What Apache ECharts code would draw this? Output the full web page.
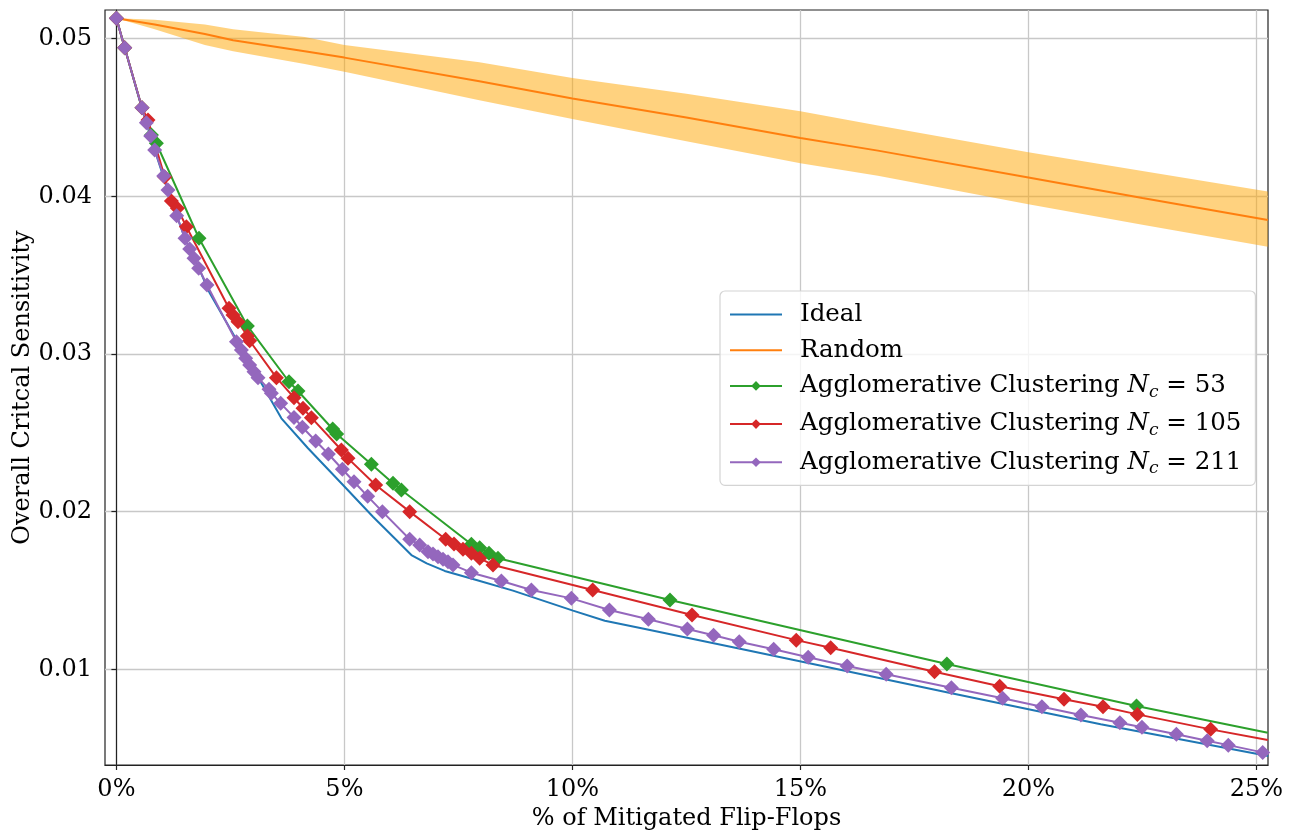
<!DOCTYPE html>
<html>
<head>
<meta charset="utf-8">
<script src="https://cdn.jsdelivr.net/npm/echarts@6/dist/echarts.min.js"></script>
<style>
  html, body { margin: 0; padding: 0; background: #fff; }
  #chart { width: 1295px; height: 839px; }
</style>
</head>
<body>
<div id="chart"></div>
<script>
// tick labels
const xTicks = [0, 5, 10, 15, 20, 25];
const yTicks = [0.01, 0.02, 0.03, 0.04, 0.05];

// Ideal
const idealX = [0, 0.182, 0.555, 0.84, 1.125, 1.498, 1.805, 2.046, 2.658, 3.18, 3.618, 4.202, 4.969, 5.627, 6.14, 6.469, 6.805, 7.2, 7.895, 8.697, 10.013, 10.711, 11.515, 13.73, 15.039, 18.261, 21.586, 25.259];
const idealY = [0.05129, 0.04943, 0.04562, 0.04294, 0.0404, 0.03736, 0.03546, 0.03387, 0.03078, 0.02814, 0.02592, 0.02402, 0.02169, 0.01968, 0.0182, 0.01725, 0.01672, 0.01624, 0.01567, 0.01499, 0.01372, 0.01308, 0.0126, 0.01127, 0.01048, 0.00851, 0.00651, 0.0045];

// Random (mean + spread band)
const randomX = [0, 0.84, 1.94, 2.56, 4.13, 5, 7.96, 10, 12.5, 15, 16.7, 20, 22.5, 25.25];
const randomY = [0.0513, 0.0509, 0.0503, 0.0499, 0.0492, 0.0488, 0.0473, 0.0462, 0.045, 0.0437, 0.0429, 0.0412, 0.0399, 0.0385];
const randomHi = [0.0513, 0.0512, 0.0509, 0.0506, 0.0501, 0.0496, 0.0485, 0.0475, 0.0465, 0.0454, 0.0445, 0.0428, 0.0416, 0.0403];
const randomLo = [0.0513, 0.0506, 0.0496, 0.0492, 0.0484, 0.0479, 0.0461, 0.0449, 0.0435, 0.0421, 0.0413, 0.0395, 0.0382, 0.0368];

// Agglomerative clustering, Nc = 53 (last point is where the line leaves the plot)
const ac53X = [0, 0.182, 0.561, 0.768, 0.877, 1.811, 2.873, 3.785, 3.982, 4.743, 4.831, 5.592, 6.066, 6.25, 7.785, 7.967, 8.171, 8.368, 12.14, 18.213, 22.371, 25.25];
const ac53Y = [0.05129, 0.04943, 0.04562, 0.04389, 0.04337, 0.03734, 0.03178, 0.02824, 0.02765, 0.02524, 0.02493, 0.023, 0.0218, 0.02137, 0.01793, 0.01771, 0.01736, 0.01704, 0.0144, 0.01034, 0.00767, 0.00598];

// Agglomerative clustering, Nc = 105
const ac105X = [0, 0.182, 0.561, 0.693, 1.059, 1.206, 1.338, 1.535, 2.469, 2.557, 2.667, 2.873, 2.923, 3.509, 3.895, 4.092, 4.276, 4.934, 5.079, 5.686, 6.432, 7.221, 7.404, 7.601, 7.785, 7.967, 8.259, 10.445, 12.623, 14.91, 15.664, 17.941, 19.371, 20.781, 21.636, 22.39, 23.998, 25.25];
const ac105Y = [0.05129, 0.04943, 0.04562, 0.04484, 0.04123, 0.03971, 0.03924, 0.03807, 0.0329, 0.03247, 0.03205, 0.03114, 0.03084, 0.0285, 0.02723, 0.02656, 0.02596, 0.02391, 0.02338, 0.02169, 0.02, 0.01825, 0.01795, 0.01761, 0.01736, 0.01704, 0.01662, 0.01503, 0.01344, 0.01185, 0.01137, 0.00985, 0.00893, 0.0081, 0.00763, 0.00714, 0.00619, 0.00551];

// Agglomerative clustering, Nc = 211
const ac211X = [0, 0.182, 0.561, 0.658, 0.752, 0.84, 1.037, 1.132, 1.322, 1.504, 1.607, 1.702, 1.805, 1.987, 2.632, 2.741, 2.836, 2.923, 3.018, 3.105, 3.346, 3.399, 3.603, 3.895, 4.079, 4.371, 4.649, 4.956, 5.211, 5.511, 5.833, 6.432, 6.651, 6.833, 6.943, 7.053, 7.162, 7.272, 7.382, 7.785, 8.443, 9.101, 9.978, 10.811, 11.667, 12.522, 13.096, 13.66, 14.414, 15.171, 16.026, 16.882, 18.311, 19.436, 20.296, 21.151, 22.007, 22.491, 23.246, 23.921, 24.384, 25.138];
const ac211Y = [0.05129, 0.04943, 0.04562, 0.04467, 0.04383, 0.04294, 0.04129, 0.0404, 0.03877, 0.03734, 0.03666, 0.03607, 0.03544, 0.03438, 0.03078, 0.03025, 0.02973, 0.0293, 0.02888, 0.0285, 0.02776, 0.02751, 0.02687, 0.02598, 0.02535, 0.02448, 0.02366, 0.02269, 0.0219, 0.02097, 0.02, 0.01825, 0.01789, 0.01746, 0.01731, 0.01714, 0.01698, 0.01682, 0.01662, 0.01613, 0.0156, 0.01503, 0.0145, 0.01376, 0.01317, 0.01256, 0.01216, 0.01175, 0.01127, 0.01076, 0.01021, 0.00969, 0.00883, 0.00816, 0.00763, 0.0071, 0.00661, 0.00632, 0.00588, 0.00547, 0.00519, 0.00473];

const FONT = 'DejaVu Serif';
const C = {
  blue: '#1f77b4', orange: '#ff7f0e', green: '#2ca02c', red: '#d62728', purple: '#9467bd'
};

function pairs(xs, ys, openEnd) {
  return xs.map((x, i) => {
    if (openEnd && i === xs.length - 1) {
      return { value: [x, ys[i]], symbol: 'none' };
    }
    return [x, ys[i]];
  });
}

function clusterSeries(name, xs, ys, color, openEnd) {
  return {
    name: name,
    type: 'line',
    data: pairs(xs, ys, openEnd),
    symbol: 'diamond',
    symbolSize: 15,
    showAllSymbol: true,
    lineStyle: { color: color, width: 2 },
    itemStyle: { color: color },
    clip: true
  };
}

const chart = echarts.init(document.getElementById('chart'));

chart.setOption({
  backgroundColor: '#fff',
  animation: false,
  grid: {
    left: 105, top: 10, right: 27, bottom: 74,
    outerBoundsMode: 'none',
    show: true, borderColor: '#222', borderWidth: 1.2,
    backgroundColor: 'transparent'
  },
  xAxis: {
    type: 'value',
    min: -0.25,
    max: 25.255,
    name: '% of Mitigated Flip-Flops',
    nameLocation: 'middle',
    nameGap: 38,
    nameTextStyle: { fontFamily: FONT, fontSize: 24, color: '#000' },
    axisLine: { show: true, onZero: false, lineStyle: { color: '#222', width: 1.2 } },
    axisTick: { show: true, length: 5, customValues: xTicks, lineStyle: { color: '#222', width: 1.2 } },
    axisLabel: {
      customValues: xTicks,
      formatter: v => v + '%',
      fontFamily: FONT, fontSize: 24, color: '#000', margin: 13
    },
    splitLine: { show: true, lineStyle: { color: '#c8c8c8', width: 1.3 } }
  },
  yAxis: {
    type: 'value',
    min: 0.00393,
    max: 0.05182,
    name: 'Overall Critcal Sensitivity',
    nameLocation: 'middle',
    nameGap: 70,
    nameMoveOverlap: false,
    nameTextStyle: { fontFamily: FONT, fontSize: 24, color: '#000' },
    axisLine: { show: true, lineStyle: { color: '#222', width: 1.2 } },
    axisTick: { show: true, length: 5, customValues: yTicks, lineStyle: { color: '#222', width: 1.2 } },
    axisLabel: {
      customValues: yTicks,
      formatter: v => v.toFixed(2),
      fontFamily: FONT, fontSize: 24, color: '#000', margin: 13
    },
    splitLine: { show: true, lineStyle: { color: '#c8c8c8', width: 1.3 } }
  },
  legend: {
    data: [
      { name: 'Ideal', itemStyle: { opacity: 0 } },
      { name: 'Random', itemStyle: { opacity: 0 } },
      'AC53', 'AC105', 'AC211'
    ],
    orient: 'vertical',
    left: 720,
    top: 291,
    padding: [11, 14, 8, 9],
    itemWidth: 52,
    itemHeight: 12,
    itemGap: 10.7,
    backgroundColor: 'rgba(255,255,255,0.8)',
    borderColor: '#d4d4d4',
    borderWidth: 1.2,
    borderRadius: 5,
    formatter: name => {
      const nc = { AC53: '53', AC105: '105', AC211: '211' }[name];
      if (!nc) return '{t|' + name + '}';
      return '{t|Agglomerative Clustering }{i|N}{s|c}{t| = ' + nc + '}';
    },
    textStyle: {
      fontFamily: FONT,
      fontSize: 24.5,
      color: '#000',
      padding: [0, 0, 0, 13],
      rich: {
        t: { fontFamily: FONT, fontSize: 24.5, lineHeight: 30, color: '#000' },
        i: { fontFamily: FONT, fontSize: 24.5, lineHeight: 30, fontStyle: 'italic', color: '#000' },
        s: { fontFamily: FONT, fontSize: 17, lineHeight: 17, fontStyle: 'italic', color: '#000', verticalAlign: 'bottom' }
      }
    }
  },
  series: [
    {
      name: 'Ideal',
      type: 'line',
      data: pairs(idealX, idealY, false),
      symbol: 'none',
      lineStyle: { color: C.blue, width: 2 },
      itemStyle: { color: C.blue },
      clip: true
    },
    {
      type: 'custom',
      silent: true,
      clip: true,
      z: 1,
      data: randomX.map((x, i) => [x, randomLo[i], randomHi[i]]),
      encode: { x: 0, y: [1, 2] },
      renderItem: (params, api) => {
        if (params.dataIndex !== 0) return null;
        const pts = [];
        for (let i = 0; i < randomX.length; i++) pts.push(api.coord([randomX[i], randomHi[i]]));
        for (let i = randomX.length - 1; i >= 0; i--) pts.push(api.coord([randomX[i], randomLo[i]]));
        return {
          type: 'polygon',
          shape: { points: pts },
          style: { fill: 'rgba(255,165,0,0.5)' }
        };
      }
    },
    {
      name: 'Random',
      type: 'line',
      data: pairs(randomX, randomY, false),
      symbol: 'none',
      lineStyle: { color: C.orange, width: 2 },
      itemStyle: { color: C.orange },
      clip: true
    },
    clusterSeries('AC53', ac53X, ac53Y, C.green, true),
    clusterSeries('AC105', ac105X, ac105Y, C.red, true),
    clusterSeries('AC211', ac211X, ac211Y, C.purple, false)
  ]
});
</script>
</body>
</html>
